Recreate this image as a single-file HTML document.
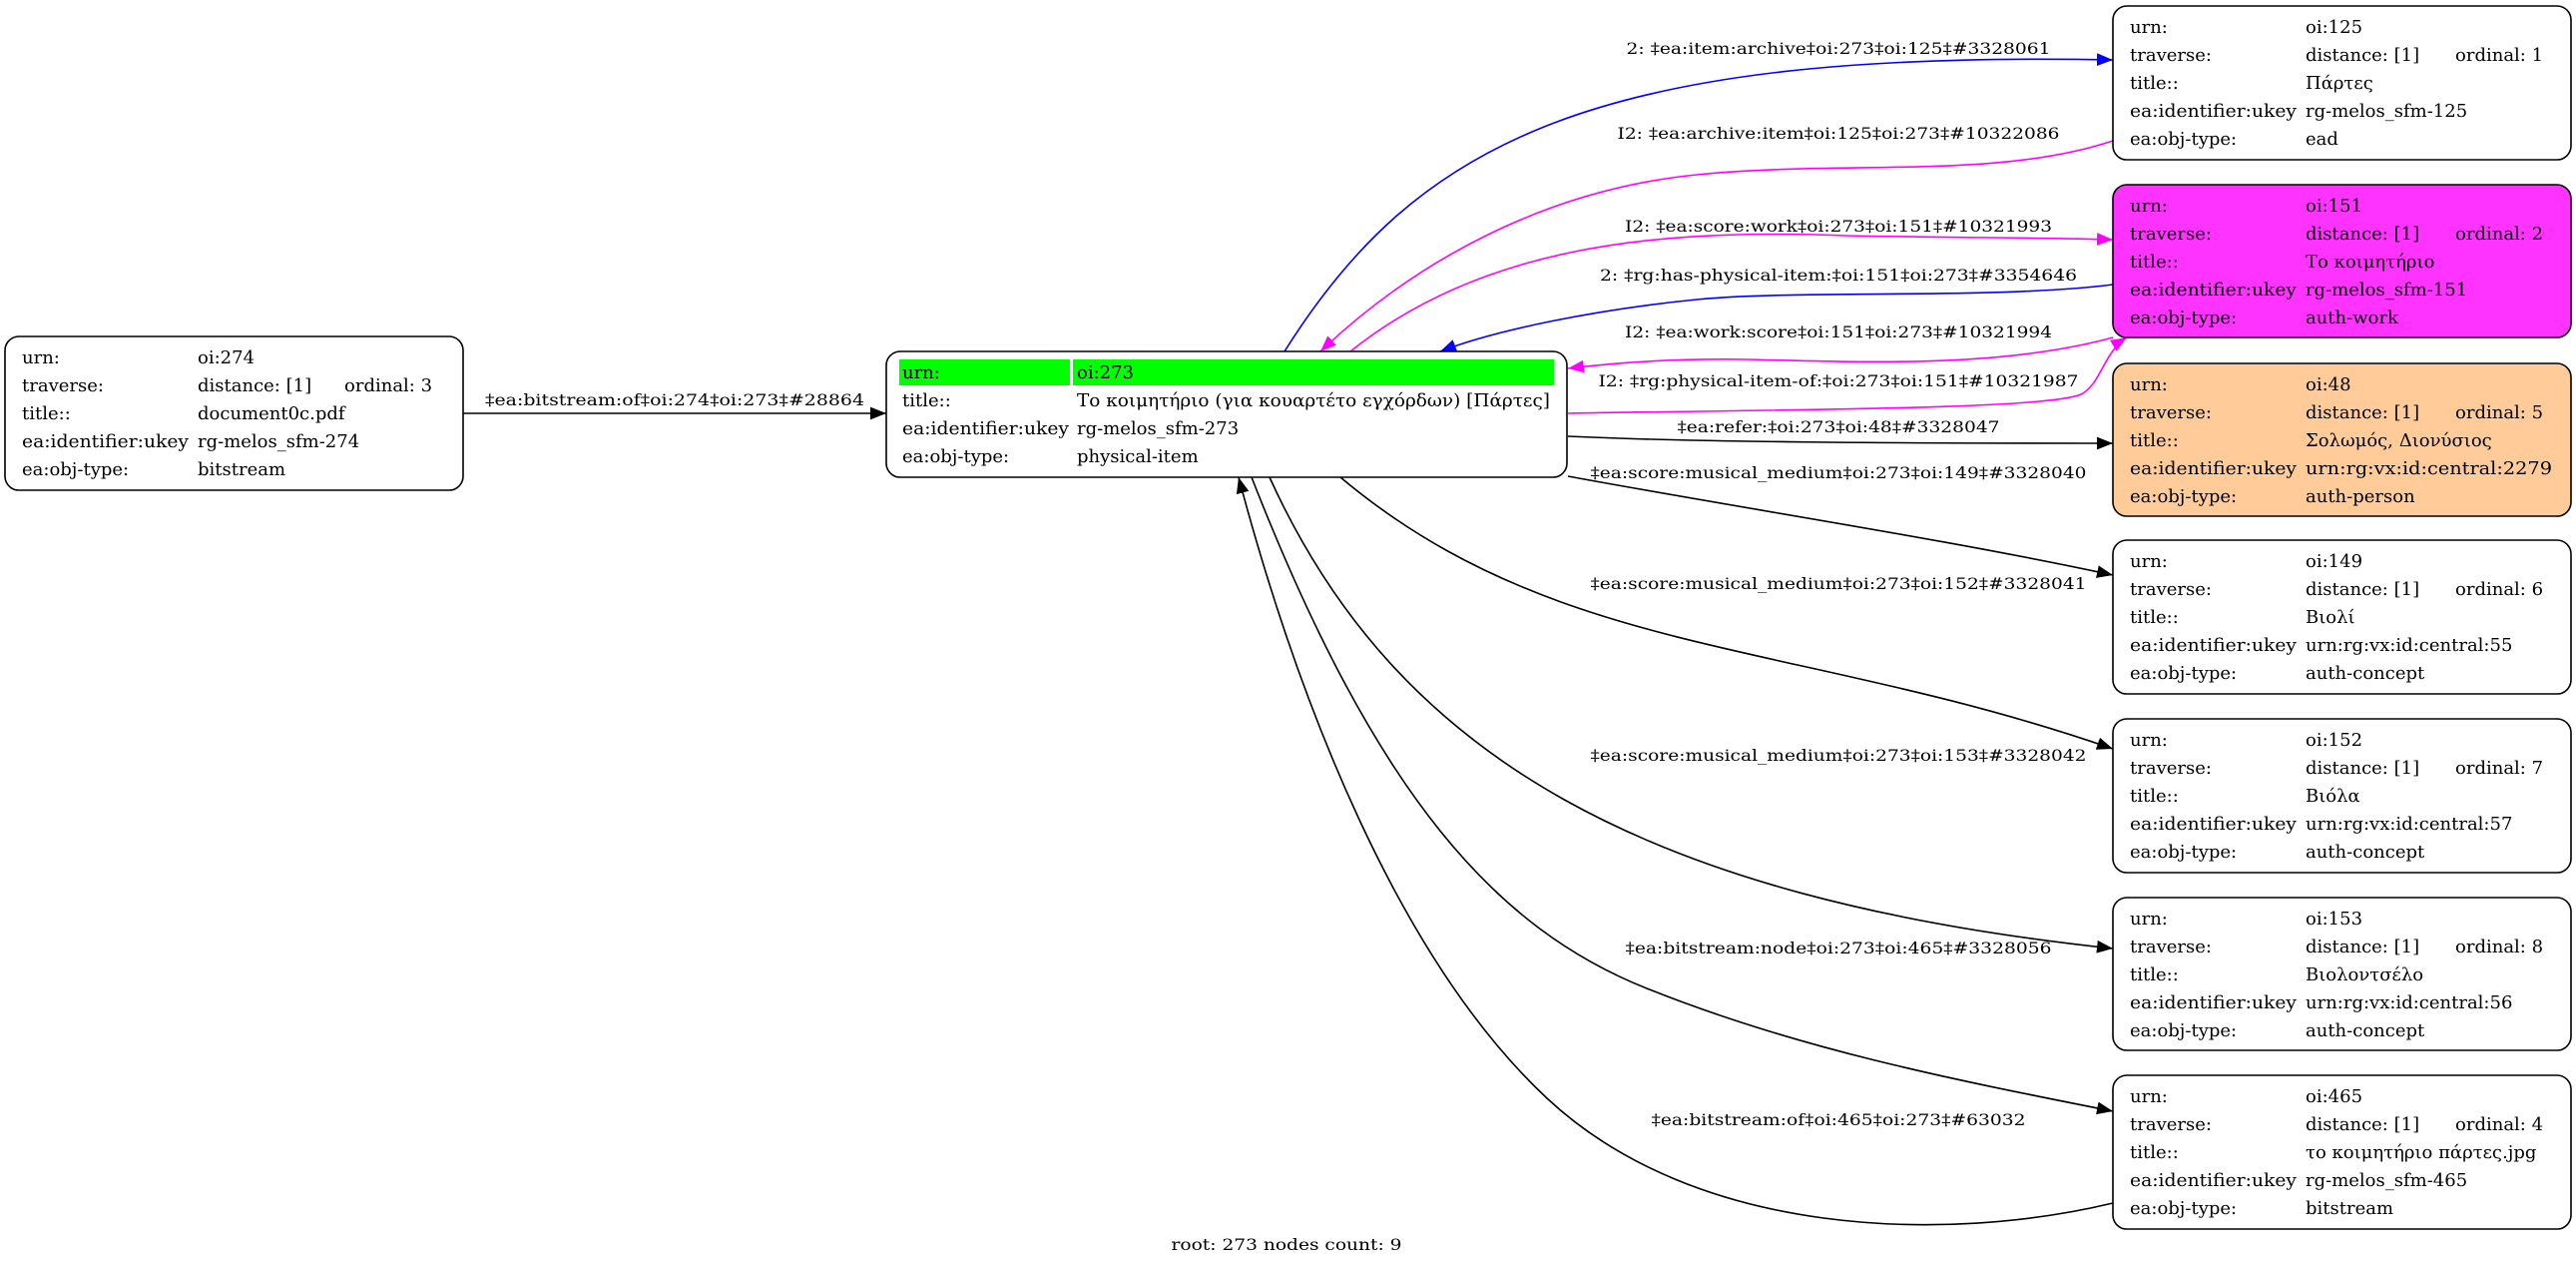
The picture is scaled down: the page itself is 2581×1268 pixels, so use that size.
<!DOCTYPE html>
<html><head><meta charset="utf-8">
<style>
html,body{margin:0;padding:0;background:#fff;}
svg{display:block;}
text{font-family:"DejaVu Serif","Liberation Serif","Noto Serif CJK SC",serif;font-size:18px;fill:#000;}
text.l{font-size:16px;}
</style></head>
<body>
<svg width="2581" height="1268" viewBox="0 0 2581 1268" xmlns="http://www.w3.org/2000/svg">
<defs>
<marker id="ab" viewBox="0 0 10 10" refX="10" refY="5" markerWidth="16" markerHeight="16" markerUnits="userSpaceOnUse" orient="auto"><path d="M0,1 L10,5 L0,9 z" fill="#000"/></marker>
<marker id="abl" viewBox="0 0 10 10" refX="10" refY="5" markerWidth="16" markerHeight="16" markerUnits="userSpaceOnUse" orient="auto"><path d="M0,1 L10,5 L0,9 z" fill="#0000ff"/></marker>
<marker id="am" viewBox="0 0 10 10" refX="10" refY="5" markerWidth="16" markerHeight="16" markerUnits="userSpaceOnUse" orient="auto"><path d="M0,1 L10,5 L0,9 z" fill="#ff00ff"/></marker>
</defs>

<g fill="none" stroke-width="1.6">
<path d="M464,414 L888,414" stroke="#000" marker-end="url(#ab)"/>
<path d="M1287,352 C1420,140 1600,50 2117,60" stroke="#0000ff" marker-end="url(#abl)"/>
<path d="M2117,141 C2000,180 1850,160 1700,175 C1550,190 1420,260 1323,352" stroke="#ff00ff" marker-end="url(#am)"/>
<path d="M1353,352 C1480,250 1650,228 1850,236 C1950,238 2050,238 2117,240" stroke="#ff00ff" marker-end="url(#am)"/>
<path d="M2117,285 C2000,300 1800,290 1700,300 C1600,310 1500,330 1443,352" stroke="#0000ff" marker-end="url(#abl)"/>
<path d="M2117,338 C2000,370 1850,362 1750,360 C1680,359 1620,363 1571,369" stroke="#ff00ff" marker-end="url(#am)"/>
<path d="M1571,414 C1800,410 2050,410 2085,395 C2105,385 2108,352 2131,338" stroke="#ff00ff" marker-end="url(#am)"/>
<path d="M1571,437 C1700,443 1900,444 2117,444" stroke="#000" marker-end="url(#ab)"/>
<path d="M1571,477 C1750,510 1950,540 2117,576" stroke="#000" marker-end="url(#ab)"/>
<path d="M1343,478 C1560,660 1800,640 2117,750" stroke="#000" marker-end="url(#ab)"/>
<path d="M1272,478 C1400,760 1650,900 2117,950" stroke="#000" marker-end="url(#ab)"/>
<path d="M1254,478 C1380,800 1500,930 1650,990 C1800,1050 1950,1080 2117,1113" stroke="#000" marker-end="url(#ab)"/>
<path d="M2117,1205 C1950,1245 1700,1240 1550,1100 C1400,960 1300,700 1241,478" stroke="#000" marker-end="url(#ab)"/>
</g>

<g text-anchor="middle">
<text class="l" x="676" y="406" textLength="380" lengthAdjust="spacingAndGlyphs">‡ea:bitstream:of‡oi:274‡oi:273‡#28864</text>
<text class="l" x="1842" y="54" textLength="425" lengthAdjust="spacingAndGlyphs">2: ‡ea:item:archive‡oi:273‡oi:125‡#3328061</text>
<text class="l" x="1842" y="139" textLength="443" lengthAdjust="spacingAndGlyphs">I2: ‡ea:archive:item‡oi:125‡oi:273‡#10322086</text>
<text class="l" x="1842" y="232" textLength="428" lengthAdjust="spacingAndGlyphs">I2: ‡ea:score:work‡oi:273‡oi:151‡#10321993</text>
<text class="l" x="1842" y="281" textLength="478" lengthAdjust="spacingAndGlyphs">2: ‡rg:has-physical-item:‡oi:151‡oi:273‡#3354646</text>
<text class="l" x="1842" y="338" textLength="428" lengthAdjust="spacingAndGlyphs">I2: ‡ea:work:score‡oi:151‡oi:273‡#10321994</text>
<text class="l" x="1842" y="387" textLength="481" lengthAdjust="spacingAndGlyphs">I2: ‡rg:physical-item-of:‡oi:273‡oi:151‡#10321987</text>
<text class="l" x="1842" y="433" textLength="323" lengthAdjust="spacingAndGlyphs">‡ea:refer:‡oi:273‡oi:48‡#3328047</text>
<text class="l" x="1842" y="479" textLength="497" lengthAdjust="spacingAndGlyphs">‡ea:score:musical_medium‡oi:273‡oi:149‡#3328040</text>
<text class="l" x="1842" y="590" textLength="497" lengthAdjust="spacingAndGlyphs">‡ea:score:musical_medium‡oi:273‡oi:152‡#3328041</text>
<text class="l" x="1842" y="762" textLength="497" lengthAdjust="spacingAndGlyphs">‡ea:score:musical_medium‡oi:273‡oi:153‡#3328042</text>
<text class="l" x="1842" y="955" textLength="427" lengthAdjust="spacingAndGlyphs">‡ea:bitstream:node‡oi:273‡oi:465‡#3328056</text>
<text class="l" x="1842" y="1127" textLength="375" lengthAdjust="spacingAndGlyphs">‡ea:bitstream:of‡oi:465‡oi:273‡#63032</text>
<text class="l" x="1289" y="1252" textLength="231" lengthAdjust="spacingAndGlyphs">root: 273 nodes count: 9</text>
</g>

<rect x="5" y="337" width="459" height="154" rx="14" fill="#fff" stroke="#000" stroke-width="1.6"/>
<g>
<text x="22" y="364">urn:</text><text x="198" y="364">oi:274</text>
<text x="22" y="392">traverse:</text><text x="198" y="392">distance: [1]</text><text x="345" y="392">ordinal: 3</text>
<text x="22" y="420">title::</text><text x="198" y="420">document0c.pdf</text>
<text x="22" y="448" textLength="167" lengthAdjust="spacingAndGlyphs">ea:identifier:ukey</text><text x="198" y="448">rg-melos_sfm-274</text>
<text x="22" y="476">ea:obj-type:</text><text x="198" y="476">bitstream</text>
</g>

<rect x="888" y="352" width="682" height="126" rx="14" fill="#fff" stroke="#000" stroke-width="1.6"/>
<rect x="901" y="360" width="171" height="26" fill="#00ff00"/>
<rect x="1075" y="360" width="482" height="26" fill="#00ff00"/>
<text x="904" y="379">urn:</text><text x="1079" y="379">oi:273</text>
<text x="904" y="407">title::</text><text x="1079" y="407" textLength="474" lengthAdjust="spacingAndGlyphs">Το κοιμητήριο (για κουαρτέτο εγχόρδων) [Πάρτες]</text>
<text x="904" y="435" textLength="167" lengthAdjust="spacingAndGlyphs">ea:identifier:ukey</text><text x="1079" y="435">rg-melos_sfm-273</text>
<text x="904" y="463">ea:obj-type:</text><text x="1079" y="463">physical-item</text>

<g>
<rect x="2117" y="6" width="459" height="154" rx="14" fill="#fff" stroke="#000" stroke-width="1.6"/>
<text x="2134" y="33">urn:</text><text x="2310" y="33">oi:125</text>
<text x="2134" y="61">traverse:</text><text x="2310" y="61">distance: [1]</text><text x="2460" y="61">ordinal: 1</text>
<text x="2134" y="89">title::</text><text x="2310" y="89">Πάρτες</text>
<text x="2134" y="117" textLength="167" lengthAdjust="spacingAndGlyphs">ea:identifier:ukey</text><text x="2310" y="117">rg-melos_sfm-125</text>
<text x="2134" y="145">ea:obj-type:</text><text x="2310" y="145">ead</text>
</g>
<g>
<rect x="2117" y="185" width="459" height="153" rx="14" fill="#ff33ff" stroke="#000" stroke-width="1.6"/>
<text x="2134" y="212">urn:</text><text x="2310" y="212">oi:151</text>
<text x="2134" y="240">traverse:</text><text x="2310" y="240">distance: [1]</text><text x="2460" y="240">ordinal: 2</text>
<text x="2134" y="268">title::</text><text x="2310" y="268">Το κοιμητήριο</text>
<text x="2134" y="296" textLength="167" lengthAdjust="spacingAndGlyphs">ea:identifier:ukey</text><text x="2310" y="296">rg-melos_sfm-151</text>
<text x="2134" y="324">ea:obj-type:</text><text x="2310" y="324">auth-work</text>
</g>
<g>
<rect x="2117" y="364" width="459" height="153" rx="14" fill="#ffcc99" stroke="#000" stroke-width="1.6"/>
<text x="2134" y="391">urn:</text><text x="2310" y="391">oi:48</text>
<text x="2134" y="419">traverse:</text><text x="2310" y="419">distance: [1]</text><text x="2460" y="419">ordinal: 5</text>
<text x="2134" y="447">title::</text><text x="2310" y="447">Σολωμός, Διονύσιος</text>
<text x="2134" y="475" textLength="167" lengthAdjust="spacingAndGlyphs">ea:identifier:ukey</text><text x="2310" y="475" textLength="247" lengthAdjust="spacingAndGlyphs">urn:rg:vx:id:central:2279</text>
<text x="2134" y="503">ea:obj-type:</text><text x="2310" y="503">auth-person</text>
</g>
<g>
<rect x="2117" y="541" width="459" height="154" rx="14" fill="#fff" stroke="#000" stroke-width="1.6"/>
<text x="2134" y="568">urn:</text><text x="2310" y="568">oi:149</text>
<text x="2134" y="596">traverse:</text><text x="2310" y="596">distance: [1]</text><text x="2460" y="596">ordinal: 6</text>
<text x="2134" y="624">title::</text><text x="2310" y="624">Βιολί</text>
<text x="2134" y="652" textLength="167" lengthAdjust="spacingAndGlyphs">ea:identifier:ukey</text><text x="2310" y="652">urn:rg:vx:id:central:55</text>
<text x="2134" y="680">ea:obj-type:</text><text x="2310" y="680">auth-concept</text>
</g>
<g>
<rect x="2117" y="720" width="459" height="154" rx="14" fill="#fff" stroke="#000" stroke-width="1.6"/>
<text x="2134" y="747">urn:</text><text x="2310" y="747">oi:152</text>
<text x="2134" y="775">traverse:</text><text x="2310" y="775">distance: [1]</text><text x="2460" y="775">ordinal: 7</text>
<text x="2134" y="803">title::</text><text x="2310" y="803">Βιόλα</text>
<text x="2134" y="831" textLength="167" lengthAdjust="spacingAndGlyphs">ea:identifier:ukey</text><text x="2310" y="831">urn:rg:vx:id:central:57</text>
<text x="2134" y="859">ea:obj-type:</text><text x="2310" y="859">auth-concept</text>
</g>
<g>
<rect x="2117" y="899" width="459" height="153" rx="14" fill="#fff" stroke="#000" stroke-width="1.6"/>
<text x="2134" y="926">urn:</text><text x="2310" y="926">oi:153</text>
<text x="2134" y="954">traverse:</text><text x="2310" y="954">distance: [1]</text><text x="2460" y="954">ordinal: 8</text>
<text x="2134" y="982">title::</text><text x="2310" y="982">Βιολοντσέλο</text>
<text x="2134" y="1010" textLength="167" lengthAdjust="spacingAndGlyphs">ea:identifier:ukey</text><text x="2310" y="1010">urn:rg:vx:id:central:56</text>
<text x="2134" y="1038">ea:obj-type:</text><text x="2310" y="1038">auth-concept</text>
</g>
<g>
<rect x="2117" y="1077" width="459" height="154" rx="14" fill="#fff" stroke="#000" stroke-width="1.6"/>
<text x="2134" y="1104">urn:</text><text x="2310" y="1104">oi:465</text>
<text x="2134" y="1132">traverse:</text><text x="2310" y="1132">distance: [1]</text><text x="2460" y="1132">ordinal: 4</text>
<text x="2134" y="1160">title::</text><text x="2310" y="1160">το κοιμητήριο πάρτες.jpg</text>
<text x="2134" y="1188" textLength="167" lengthAdjust="spacingAndGlyphs">ea:identifier:ukey</text><text x="2310" y="1188">rg-melos_sfm-465</text>
<text x="2134" y="1216">ea:obj-type:</text><text x="2310" y="1216">bitstream</text>
</g>
</svg>
</body></html>
